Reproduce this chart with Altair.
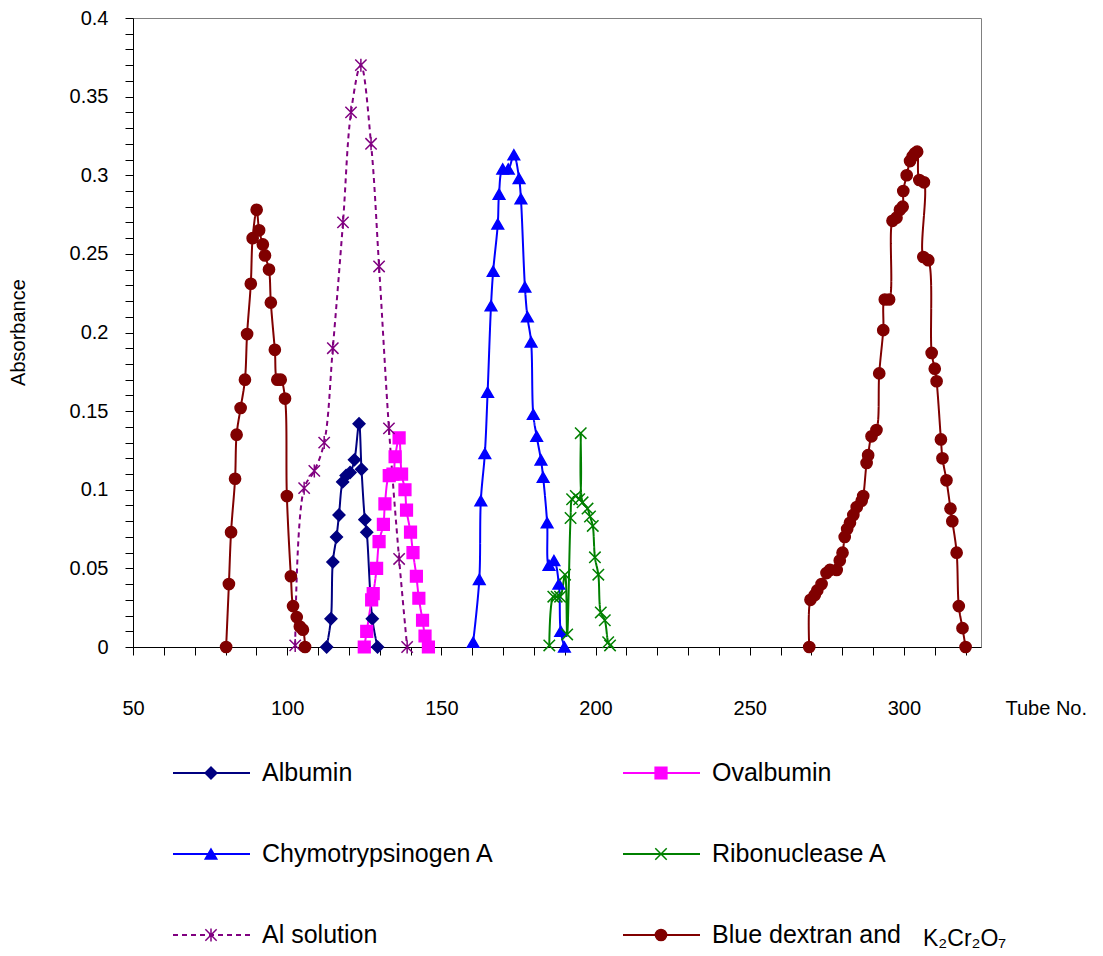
import altair as alt
import pandas as pd

FONT = "Liberation Sans"

series_names = ["Albumin", "Ovalbumin", "Chymotrypsinogen A", "Ribonuclease A",
                "Al solution", "Blue dextran and K\u2082Cr\u2082O\u2087"]
series_colors = ["#000080", "#FF00FF", "#0000FF", "#008000", "#800080", "#800000"]
X_PATH = "M-1,-1L1,1M-1,1L1,-1"
AST_PATH = "M-1,-1L1,1M-1,1L1,-1M0,-1.15L0,1.15"
series_shapes = ["diamond", "square", "triangle-up", X_PATH, AST_PATH, "circle"]
series_sizes = [140, 125, 140, 190, 200, 150]
series_marker_widths = [1.5, 1.5, 1.5, 2, 2, 1.5]
series_dashes = [[1, 0], [1, 0], [1, 0], [1, 0], [5, 4], [1, 0]]

albumin_x = [112.8, 114.2, 114.8, 116.0, 116.8, 118.0, 119.1, 120.4, 121.8, 123.3, 124.1, 125.2, 125.8, 127.6, 129.3]
albumin_y = [0.000, 0.018, 0.054, 0.070, 0.084, 0.105, 0.109, 0.111, 0.119, 0.142, 0.113, 0.081, 0.073, 0.018, 0.000]

ovalbumin_x = [125.0, 125.8, 127.4, 127.9, 129.0, 129.8, 131.2, 131.7, 133.1, 134.3, 135.0, 136.3, 137.1, 138.2,
               138.7, 140.0, 140.8, 141.9, 142.7, 143.9, 144.7, 145.8]
ovalbumin_y = [0.000, 0.010, 0.030, 0.034, 0.050, 0.067, 0.078, 0.091, 0.109, 0.110, 0.121, 0.133, 0.110, 0.100,
               0.087, 0.073, 0.060, 0.045, 0.031, 0.017, 0.007, 0.000]

chymo_x = [160.3, 162.3, 162.8, 164.1, 165.0, 166.1, 166.8, 168.3, 168.7, 169.9, 171.7, 173.5, 175.2, 175.8,
           177.1, 177.9, 179.1, 179.8, 180.9, 182.3, 183.0, 184.3, 184.9, 186.5, 188.1, 188.7, 189.9]
chymo_y = [0.003, 0.043, 0.093, 0.123, 0.162, 0.217, 0.239, 0.269, 0.288, 0.304, 0.304, 0.313, 0.298, 0.285,
           0.229, 0.210, 0.194, 0.148, 0.134, 0.119, 0.108, 0.079, 0.052, 0.055, 0.040, 0.010, 0.000]

ribo_x = [185.0, 186.3, 187.4, 188.5, 190.1, 190.8, 191.9, 192.4, 193.6, 194.7, 195.2, 195.8, 197.4, 198.2,
          199.1, 199.8, 200.9, 201.7, 203.0, 204.1, 204.7]
ribo_y = [0.001, 0.032, 0.032, 0.032, 0.046, 0.008, 0.082, 0.094, 0.096, 0.094, 0.136, 0.092, 0.088, 0.083,
          0.077, 0.057, 0.046, 0.022, 0.017, 0.003, 0.001]

al_x = [102.6, 105.5, 108.8, 112.0, 114.8, 118.1, 120.7, 123.9, 127.2, 129.8, 133.0, 136.3, 138.9]
al_y = [0.001, 0.101, 0.112, 0.130, 0.190, 0.270, 0.340, 0.370, 0.320, 0.242, 0.139, 0.056, 0.000]

dextran1_x = [80.2, 81.1, 81.8, 83.1, 83.6, 84.9, 86.3, 87.0, 88.2, 88.8, 90.1, 90.9, 92.1, 92.8, 94.1, 94.7,
              96.0, 96.8, 97.9, 99.3, 99.9, 101.2, 101.9, 103.1, 104.1, 105.1, 105.8]
dextran1_y = [0.000, 0.040, 0.073, 0.107, 0.135, 0.152, 0.170, 0.199, 0.231, 0.260, 0.278, 0.265, 0.256, 0.249,
              0.240, 0.219, 0.189, 0.170, 0.170, 0.158, 0.096, 0.045, 0.026, 0.019, 0.013, 0.011, 0.000]

dextran2_x = [269.3, 269.7, 271.1, 271.9, 273.3, 274.9, 276.0, 278.2, 279.2, 280.1, 280.8, 281.6, 282.5, 283.6,
              284.7, 286.3, 286.8, 287.9, 288.4, 289.5, 291.1, 292.0, 293.3, 293.8, 295.2, 296.3, 297.6, 298.7,
              299.6, 299.8, 300.9, 302.0, 302.8, 303.6, 304.3, 305.0, 306.5, 306.3, 307.9, 309.0, 310.0, 310.6,
              312.0, 312.5, 313.8, 315.1, 315.7, 317.1, 317.8, 319.0, 320.0]
dextran2_y = [0.000, 0.030, 0.033, 0.036, 0.040, 0.047, 0.049, 0.049, 0.055, 0.060, 0.070, 0.075, 0.079, 0.084,
              0.089, 0.093, 0.096, 0.117, 0.122, 0.134, 0.138, 0.174, 0.2015, 0.221, 0.221, 0.271, 0.273, 0.278,
              0.280, 0.290, 0.300, 0.309, 0.312, 0.314, 0.315, 0.297, 0.2955, 0.248, 0.246, 0.187, 0.177, 0.169,
              0.132, 0.120, 0.106, 0.088, 0.080, 0.060, 0.026, 0.012, 0.000]

x_tick_values = list(range(50, 330, 10))
y_tick_values = [round(i * 0.01, 2) for i in range(41)]

legend_labels = ["Albumin", "Ovalbumin", "Chymotrypsinogen A", "Ribonuclease A", "Al solution", "Blue dextran and"]
legend_subs = ["", "", "", "", "", "K\u2082Cr\u2082O\u2087"]

# ---- build tables ----
rows = []
def add(name, seg, xs, ys):
    for i, (a, b) in enumerate(zip(xs, ys)):
        rows.append({"series": name, "seg": seg, "order": i, "tube": a, "absorbance": b})

add(series_names[0], "alb", albumin_x, albumin_y)
add(series_names[1], "ova", ovalbumin_x, ovalbumin_y)
add(series_names[2], "chy", chymo_x, chymo_y)
add(series_names[3], "rib", ribo_x, ribo_y)
add(series_names[4], "al", al_x, al_y)
add(series_names[5], "bd1", dextran1_x, dextran1_y)
add(series_names[5], "bd2", dextran2_x, dextran2_y)
df = pd.DataFrame(rows)

leg_df = pd.DataFrame({
    "series": series_names,
    "col": [i % 2 for i in range(len(series_names))],
    "row": [i // 2 for i in range(len(series_names))],
    "label": legend_labels,
    "sub": legend_subs,
})

color_scale = alt.Scale(domain=series_names, range=series_colors)
shape_scale = alt.Scale(domain=series_names, range=series_shapes)
size_scale = alt.Scale(domain=series_names, range=series_sizes)
sw_scale = alt.Scale(domain=series_names, range=series_marker_widths)
dash_scale = alt.Scale(domain=series_names, range=series_dashes)

xscale = alt.Scale(domain=[50, 325], nice=False, zero=False)
yscale = alt.Scale(domain=[0, 0.4], nice=False)

xaxis = alt.Axis(values=x_tick_values, labelExpr="datum.value % 50 === 0 ? datum.label : ''", format="d",
                 labelFontSize=20, tickSize=8, labelPadding=43, labelFlush=False, labelOverlap=False,
                 title="Tube No.", titleFontSize=20, titleAngle=0, titleX=872, titleY=67,
                 titleAlign="left", titleBaseline="alphabetic", titleFontWeight="normal")
yaxis = alt.Axis(values=y_tick_values, labelExpr="round(datum.value*100) % 5 === 0 ? datum.label : ''",
                 format="~g", labelFontSize=20, tickSize=8, labelPadding=17, labelFlush=False,
                 labelOverlap=False, title="Absorbance", titleFontSize=20, titleAngle=270,
                 titleX=-115, titleY=314, titleAlign="center", titleBaseline="middle",
                 titleFontWeight="normal")

X = alt.X("tube:Q", scale=xscale, axis=xaxis)
Y = alt.Y("absorbance:Q", scale=yscale, axis=yaxis)

line = alt.Chart(df).mark_line(strokeWidth=2, interpolate="catmull-rom").encode(
    x=X, y=Y,
    color=alt.Color("series:N", scale=color_scale, legend=None),
    strokeDash=alt.StrokeDash("series:N", scale=dash_scale, legend=None),
    detail="seg:N",
    order="order:Q",
)

def marker_enc():
    return dict(
        shape=alt.Shape("series:N", scale=shape_scale, legend=None),
        fill=alt.Fill("series:N", scale=color_scale, legend=None),
        stroke=alt.Stroke("series:N", scale=color_scale, legend=None),
        size=alt.Size("series:N", scale=size_scale, legend=None),
        strokeWidth=alt.StrokeWidth("series:N", scale=sw_scale, legend=None),
    )

points = alt.Chart(df).mark_point(filled=True, opacity=1).encode(x=X, y=Y, **marker_enc())

LX = alt.X("col:Q", scale=alt.Scale(domain=[0, 1], range=[40, 490]), axis=None)
LY = alt.Y("row:Q", scale=alt.Scale(domain=[0, 2], range=[755, 917]), axis=None)

leg_rule = alt.Chart(leg_df).mark_rule(strokeWidth=2, x2Offset=77).encode(
    x=LX, x2=alt.X2("col:Q"), y=LY,
    color=alt.Color("series:N", scale=color_scale, legend=None),
    strokeDash=alt.StrokeDash("series:N", scale=dash_scale, legend=None),
)
leg_pts = alt.Chart(leg_df).mark_point(filled=True, opacity=1, xOffset=38).encode(x=LX, y=LY, **marker_enc())
leg_txt = alt.Chart(leg_df).mark_text(align="left", baseline="middle", dx=89, fontSize=25, font=FONT,
                                      color="#000000").encode(x=LX, y=LY, text="label:N")
leg_sub = alt.Chart(leg_df).mark_text(align="left", baseline="middle", dx=300, dy=4, fontSize=23, font=FONT,
                                      color="#000000").encode(x=LX, y=LY, text="sub:N")

main = alt.layer(line, points)
legend = alt.layer(leg_rule, leg_pts, leg_txt, leg_sub)

chart = alt.layer(main, legend).resolve_scale(x="independent", y="independent").properties(
    width=848, height=629,
    autosize=alt.AutoSizeParams(type="none"),
    padding={"left": 133, "top": 18, "right": 122, "bottom": 309},
).configure_view(stroke="#808080", strokeWidth=1).configure_axis(
    domainColor="#000000", tickColor="#000000", labelColor="#000000", titleColor="#000000",
    labelFont=FONT, titleFont=FONT, grid=False, domainWidth=1, tickWidth=1,
)

chart.save("out.html", embed_options={"renderer": "svg", "actions": False})
